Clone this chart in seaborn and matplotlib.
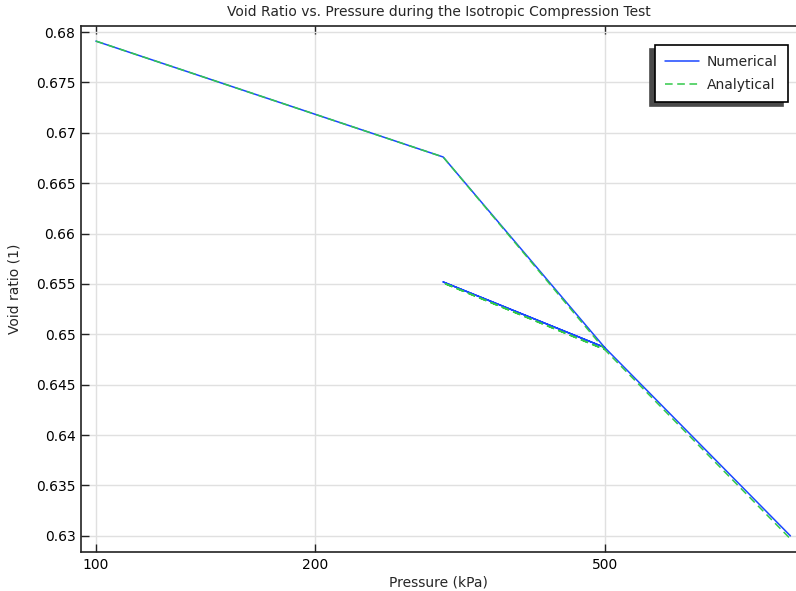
import numpy as np
import pandas as pd
import matplotlib
matplotlib.use("Agg")
import matplotlib.pyplot as plt
import seaborn as sns
from matplotlib.ticker import FixedLocator, NullLocator

# pressure path: load to 500, unload to 300, reload to 900
pressure = [100, 300, 500, 300, 500, 900]
e_numerical = [0.6791, 0.6676, 0.6487, 0.6552, 0.6487, 0.6300]
e_analytical = [0.6791, 0.6676, 0.6485, 0.6551, 0.6485, 0.6297]
xticks = [100, 200, 500]
yticks = [0.63, 0.635, 0.64, 0.645, 0.65, 0.655, 0.66, 0.665, 0.67, 0.675, 0.68]

step = list(range(len(pressure)))
df = pd.DataFrame({
    "p": pressure * 2,
    "e": e_numerical + e_analytical,
    "step": step * 2,
    "kind": ["Numerical"] * len(pressure) + ["Analytical"] * len(pressure),
})

sns.set_style("white")
plt.rcParams["font.family"] = ["DejaVu Sans"]

fig = plt.figure(figsize=(7.96, 5.91), dpi=100)
ax = fig.add_axes([81 / 796, 1 - 552 / 591, 715 / 796, 526 / 591])

sns.lineplot(data=df, x="p", y="e", hue="kind", style="kind", sort=False,
             estimator=None, units="kind",
             palette={"Numerical": "#1a47ff", "Analytical": "#33c94a"},
             dashes={"Numerical": "", "Analytical": (5, 3)},
             linewidth=1.1, ax=ax)

ax.set_xscale("log")
ax.set_xlim(95.4, 916)
ax.set_ylim(0.6284, 0.6806)
ax.xaxis.set_major_locator(FixedLocator(xticks))
ax.xaxis.set_minor_locator(NullLocator())
ax.set_xticklabels([str(t) for t in xticks])
ax.set_yticks(yticks)
ax.set_yticklabels([f"{t:g}" for t in yticks])

ax.grid(True, color="#e0e0e0", linewidth=1)
ax.set_axisbelow(True)
ax.spines["right"].set_visible(False)
for s in ["left", "bottom", "top"]:
    ax.spines[s].set_color("#222222")
    ax.spines[s].set_linewidth(1.2)
ax.tick_params(direction="in", length=6, width=1, labelsize=10, colors="#222222",
               labelcolor="black", left=True, bottom=True, top=True, pad=4)

ax.set_xlabel("Pressure (kPa)", fontsize=10, labelpad=3)
ax.set_ylabel("Void ratio (1)", fontsize=10, labelpad=10)
ax.set_title("Void Ratio vs. Pressure during the Isotropic Compression Test", fontsize=10, pad=7)

leg = ax.legend(loc="upper right", bbox_to_anchor=(0.989, 0.964), borderaxespad=0,
                frameon=True, fancybox=False, fontsize=10, handlelength=2.4,
                borderpad=0.75, labelspacing=0.6, handletextpad=0.6,
                shadow={"ox": -3.6, "oy": -2.9, "color": "#4a4a4a", "alpha": 1})
leg.set_title(None)
leg.get_frame().set_edgecolor("black")
leg.get_frame().set_linewidth(1.2)

fig.savefig("out.png", dpi=100)
